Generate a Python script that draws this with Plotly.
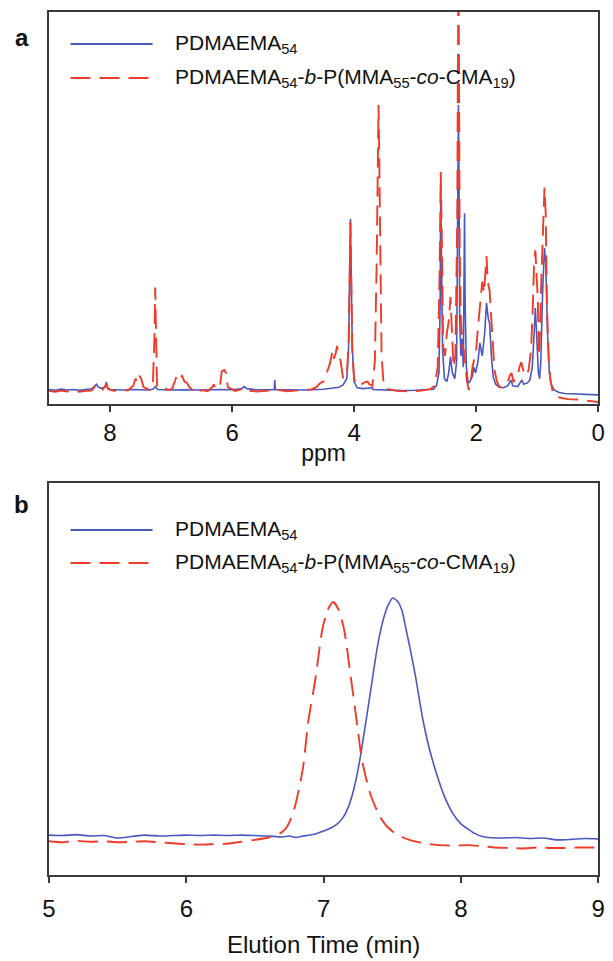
import plotly.graph_objects as go

W, H = 613, 961

# ---- (a) 1H NMR spectra, chemical shift (ppm) vs relative intensity ----
nmr_ppm_homo = [9.00, 8.90, 8.80, 8.70, 8.60, 8.50, 8.40, 8.30, 8.25, 8.22, 8.20, 8.15, 8.08, 8.06, 8.04,
                8.00, 7.90, 7.80, 7.60, 7.40, 7.30, 7.26, 7.22, 7.00, 6.80, 6.50, 6.20, 6.00, 5.85, 5.80,
                5.76, 5.60, 5.40, 5.31, 5.30, 5.29, 5.10, 4.80, 4.50, 4.35, 4.25, 4.18, 4.12, 4.09, 4.07,
                4.06, 4.05, 4.03, 4.00, 3.95, 3.85, 3.75, 3.70, 3.69, 3.50, 3.20, 3.00, 2.80, 2.70, 2.65,
                2.61, 2.59, 2.58, 2.57, 2.55, 2.52, 2.48, 2.45, 2.42, 2.39, 2.35, 2.32, 2.30, 2.29, 2.28,
                2.27, 2.25, 2.23, 2.21, 2.20, 2.19, 2.18, 2.16, 2.13, 2.10, 2.06, 2.04, 2.01, 1.97, 1.94,
                1.90, 1.86, 1.83, 1.80, 1.78, 1.75, 1.72, 1.68, 1.62, 1.55, 1.48, 1.43, 1.40, 1.32, 1.28,
                1.25, 1.22, 1.16, 1.12, 1.08, 1.05, 1.03, 1.01, 0.98, 0.96, 0.94, 0.91, 0.88, 0.86, 0.83,
                0.80, 0.77, 0.72, 0.65, 0.55, 0.40, 0.20, 0.00]
nmr_int_homo = [0.2, -0.1, 0.3, 0.0, 0.2, -0.1, 0.2, 0.4, 1.5, 2.0, 1.2, 0.6, 1.0, 2.8, 0.8,
                0.2, 0.1, 0.0, 0.2, 0.0, 0.3, 1.2, 0.2, 0.0, 0.1, 0.0, 0.2, 0.1, 0.4, 1.2,
                0.5, 0.1, 0.1, 0.2, 3.5, 0.2, 0.1, 0.0, 0.3, 0.6, 1.0, 1.8, 4.0, 15, 45,
                60, 45, 15, 3.0, 0.8, 0.5, 0.8, 0.8, 0.2, 0.0, -0.2, -0.1, 0.0, 0.3, 1.5,
                6, 30, 71, 50, 14, 4, 3, 6, 11.6, 6, 4, 10, 60, 100, 70,
                25, 12, 18, 8, 30, 62, 30, 8, 2.4, 3, 5, 8, 6, 10, 16.5,
                12, 20, 30.5, 25, 23.5, 12, 4.5, 2, 1, 0.8, 1.5, 3.5, 1.5, 1.2, 2.5,
                3.5, 2, 2.5, 3.5, 8, 20, 28.8, 20, 6, 4, 10, 35, 49.8, 45, 20,
                6, 2, 0, -0.8, -1.2, -1.4, -1.5, -1.7]

nmr_ppm_block = [9.00, 8.90, 8.80, 8.70, 8.60, 8.50, 8.40, 8.30, 8.25, 8.22, 8.18, 8.12, 8.06, 8.03, 7.95,
                 7.80, 7.70, 7.62, 7.58, 7.55, 7.52, 7.49, 7.45, 7.35, 7.30, 7.27, 7.26, 7.25, 7.23, 7.18,
                 7.12, 7.05, 6.98, 6.93, 6.90, 6.86, 6.82, 6.78, 6.74, 6.70, 6.62, 6.55, 6.50, 6.40, 6.32,
                 6.30, 6.27, 6.20, 6.17, 6.13, 6.10, 6.07, 5.95, 5.85, 5.80, 5.75, 5.60, 5.40, 5.30, 5.10,
                 4.90, 4.70, 4.62, 4.55, 4.50, 4.45, 4.40, 4.35, 4.33, 4.30, 4.28, 4.26, 4.22, 4.18, 4.12,
                 4.09, 4.07, 4.06, 4.05, 4.03, 4.00, 3.95, 3.88, 3.82, 3.78, 3.75, 3.70, 3.66, 3.63, 3.61,
                 3.60, 3.59, 3.57, 3.55, 3.52, 3.48, 3.30, 3.10, 2.90, 2.75, 2.68, 2.63, 2.60, 2.58, 2.56,
                 2.54, 2.51, 2.48, 2.45, 2.42, 2.40, 2.37, 2.34, 2.31, 2.30, 2.29, 2.28, 2.27, 2.25, 2.22,
                 2.20, 2.18, 2.15, 2.12, 2.09, 2.06, 2.03, 2.00, 1.97, 1.93, 1.90, 1.87, 1.85, 1.83, 1.81,
                 1.78, 1.76, 1.73, 1.70, 1.66, 1.62, 1.55, 1.48, 1.45, 1.42, 1.39, 1.33, 1.29, 1.26, 1.23,
                 1.18, 1.14, 1.10, 1.07, 1.05, 1.03, 1.01, 0.99, 0.97, 0.95, 0.93, 0.90, 0.88, 0.86, 0.84,
                 0.81, 0.78, 0.74, 0.70, 0.60, 0.50, 0.35, 0.20, 0.10, 0.00]
nmr_int_block = [-0.3, -0.6, -0.2, -0.5, -0.2, -0.6, -0.3, -0.2, 1.2, 1.8, 1.5, 0.2, 2.0, 0.3, -0.2,
                 -0.4, 0.0, 1.5, 4.0, 2.5, 5.0, 4.0, 1.0, 0.0, 0.8, 20, 36, 20, 1.5, 0.5,
                 1.0, 0.0, 0.5, 3.5, 5.5, 4.2, 5.0, 3.0, 2.5, 1.0, -0.5, -1.0, 0.0, -0.4, 1.2,
                 2.0, 0.5, 1.0, 6.5, 7.0, 6.0, 1.0, -0.3, 0.2, 0.8, -0.2, -0.5, -0.2, 0.3, -0.4,
                 -0.2, 0.2, 1.0, 2.5, 3.0, 6.0, 9.0, 14, 11, 13, 15.5, 13, 10, 4.0, 5.0,
                 16, 44, 59, 44, 14, 4.0, 1.5, 2.0, 2.8, 3.0, 2.0, 1.5, 10, 45, 85,
                 100, 85, 45, 12, 3.0, 0.5, -0.3, -0.5, -0.2, 0.3, 1.5, 8, 40, 76.5, 50,
                 15, 12, 20, 24, 32.6, 22, 8, 12, 60, 110, 150, 110, 50, 25, 15,
                 14, 9, 3, 0, 3, 8, 11.6, 14, 22, 30, 38, 34, 42, 47, 38,
                 35, 28, 16, 7, 3, 1, 1.5, 3, 5, 6, 3, 4, 8, 9.8, 7,
                 5, 7, 14, 30, 45, 49, 38, 32, 12, 22, 40, 60, 71, 62, 30,
                 10, 3, -1, -2.2, -2.8, -3.2, -3.3, -3.6, -4.0, -4.2]

nmr_ticks = [0, 2, 4, 6, 8]

# ---- (b) SEC traces, elution time (min) vs normalised detector response ----
sec_time_homo = [5.00, 5.10, 5.20, 5.30, 5.40, 5.50, 5.60, 5.70, 5.80, 5.90, 6.00, 6.10, 6.20, 6.30, 6.40,
                 6.50, 6.60, 6.70, 6.75, 6.80, 6.85, 6.90, 6.95, 7.00, 7.06, 7.10, 7.14, 7.18, 7.22, 7.26,
                 7.31, 7.35, 7.39, 7.43, 7.47, 7.505, 7.54, 7.57, 7.60, 7.64, 7.67, 7.72, 7.77, 7.82, 7.88,
                 7.94, 8.00, 8.06, 8.10, 8.15, 8.20, 8.30, 8.40, 8.50, 8.60, 8.70, 8.80, 8.90, 9.00]
sec_resp_homo = [0.008, 0.006, 0.010, 0.004, 0.006, -0.004, 0.002, 0.008, 0.004, 0.006, 0.008, 0.006, 0.008,
                 0.006, 0.008, 0.006, 0.004, 0.000, 0.004, -0.002, 0.004, 0.008, 0.015, 0.025, 0.04, 0.055,
                 0.08, 0.125, 0.20, 0.31, 0.49, 0.64, 0.79, 0.90, 0.97, 1.0, 0.985, 0.95, 0.87, 0.76, 0.67,
                 0.50, 0.37, 0.27, 0.17, 0.10, 0.055, 0.03, 0.015, 0.003, -0.002, -0.004, -0.002, -0.006,
                 -0.004, -0.012, -0.010, -0.006, -0.008]

sec_time_block = [5.00, 5.10, 5.20, 5.30, 5.40, 5.50, 5.60, 5.70, 5.80, 5.90, 6.00, 6.10, 6.20, 6.30, 6.40,
                  6.50, 6.60, 6.66, 6.70, 6.73, 6.76, 6.79, 6.82, 6.85, 6.89, 6.94, 6.99, 7.03, 7.07, 7.11,
                  7.15, 7.20, 7.24, 7.28, 7.34, 7.41, 7.46, 7.51, 7.57, 7.63, 7.72, 7.82, 7.95, 8.05, 8.15,
                  8.25, 8.35, 8.45, 8.55, 8.65, 8.75, 8.85, 9.00]
sec_resp_block = [-0.018, -0.022, -0.016, -0.020, -0.018, -0.022, -0.020, -0.018, -0.022, -0.026, -0.030,
                  -0.032, -0.030, -0.028, -0.020, -0.012, -0.002, 0.008, 0.022, 0.04, 0.075, 0.125, 0.20,
                  0.29, 0.49, 0.66, 0.866, 0.95, 0.983, 0.95, 0.866, 0.66, 0.49, 0.32, 0.18, 0.085, 0.045,
                  0.02, 0.00, -0.013, -0.025, -0.033, -0.036, -0.034, -0.038, -0.044, -0.046, -0.048,
                  -0.044, -0.046, -0.046, -0.044, -0.044]

sec_ticks = [5, 6, 7, 8, 9]

NAME_HOMO = "PDMAEMA<sub>54</sub>"
NAME_BLOCK = "PDMAEMA<sub>54</sub>-<i>b</i>-P(MMA<sub>55</sub>-<i>co</i>-CMA<sub>19</sub>)"

BLUE = "#4a58bf"
RED = "#ee3b2a"
DASH = "20px,9px"
FONT = "Liberation Sans, Arial, sans-serif"
AXIS_COLOR = "#3a3a3a"


def px_x(p):
    return p / W


def px_y(p):
    return 1 - p / H


fig = go.Figure()

fig.add_trace(go.Scatter(x=nmr_ppm_homo, y=nmr_int_homo, mode="lines", name=NAME_HOMO,
                         line=dict(color=BLUE, width=1.6), xaxis="x", yaxis="y", showlegend=False))
fig.add_trace(go.Scatter(x=nmr_ppm_block, y=nmr_int_block, mode="lines", name=NAME_BLOCK,
                         line=dict(color=RED, width=1.9, dash=DASH), xaxis="x", yaxis="y", showlegend=False))
fig.add_trace(go.Scatter(x=sec_time_homo, y=sec_resp_homo, mode="lines", name=NAME_HOMO,
                         line=dict(color=BLUE, width=1.6, shape="spline", smoothing=0.6),
                         xaxis="x2", yaxis="y2", showlegend=False))
fig.add_trace(go.Scatter(x=sec_time_block, y=sec_resp_block, mode="lines", name=NAME_BLOCK,
                         line=dict(color=RED, width=1.9, dash=DASH, shape="spline", smoothing=0.6),
                         xaxis="x2", yaxis="y2", showlegend=False))

x_dom = [px_x(43), px_x(605)]
a_top, a_bot = 12, 404
b_top, b_bot = 483, 875

common_x = dict(showline=True, mirror=True, linecolor=AXIS_COLOR, linewidth=1.5, ticks="outside",
                ticklen=6, tickwidth=1.5, tickcolor=AXIS_COLOR, showgrid=False, zeroline=False,
                tickfont=dict(family=FONT, size=24, color="#111111"))
common_y = dict(showline=True, mirror=True, linecolor=AXIS_COLOR, linewidth=1.5, ticks="",
                showticklabels=False, showgrid=False, zeroline=False)

fig.update_layout(
    width=W, height=H,
    margin=dict(l=0, r=0, t=0, b=0),
    paper_bgcolor="white", plot_bgcolor="white",
    font=dict(family=FONT, color="#111111"),
    xaxis=dict(domain=x_dom, anchor="y", range=[9, 0], tickvals=nmr_ticks,
               title=dict(text="ppm", font=dict(family=FONT, size=23), standoff=0), **common_x),
    yaxis=dict(domain=[px_y(a_bot), px_y(a_top)], anchor="x", range=[-4.9, 132.6], **common_y),
    xaxis2=dict(domain=x_dom, anchor="y2", range=[5, 9], tickvals=sec_ticks, ticklabelstandoff=5,
                title=dict(text="Elution Time (min)", font=dict(family=FONT, size=24), standoff=16),
                **common_x),
    yaxis2=dict(domain=[px_y(b_bot), px_y(b_top)], anchor="x2", range=[-0.159, 1.481], **common_y),
)

# panel letters
for letter, ypix in (("a", 37), ("b", 505)):
    fig.add_annotation(text=f"<b>{letter}</b>", x=px_x(15), y=px_y(ypix), xref="paper", yref="paper",
                       showarrow=False, xanchor="center", yanchor="middle",
                       font=dict(family=FONT, size=24, color="#111111"))

# legend keys for each panel
legend_rows = [
    (44, NAME_HOMO, BLUE, "solid"), (78, NAME_BLOCK, RED, DASH),
    (530, NAME_HOMO, BLUE, "solid"), (563, NAME_BLOCK, RED, DASH),
]
for ypix, label, color, dash in legend_rows:
    fig.add_shape(type="line", xref="paper", yref="paper", x0=px_x(65), x1=px_x(149),
                  y0=px_y(ypix), y1=px_y(ypix), line=dict(color=color, width=1.8, dash=dash))
    fig.add_annotation(text=label, x=px_x(170), y=px_y(ypix), xref="paper", yref="paper",
                       showarrow=False, xanchor="left", yanchor="middle",
                       font=dict(family=FONT, size=21, color="#111111"))

fig.write_html("out.html")
